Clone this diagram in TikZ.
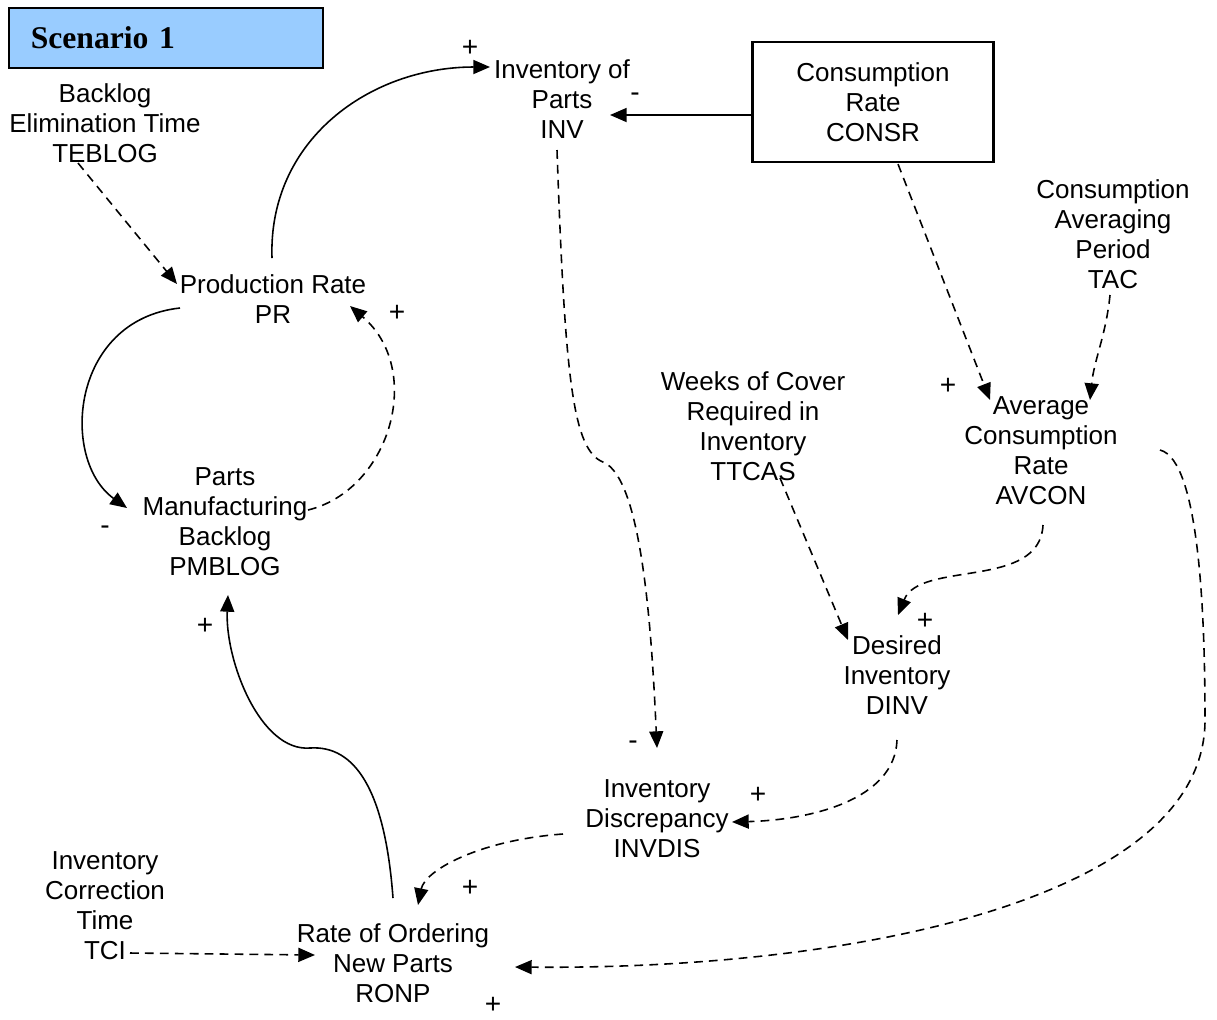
\documentclass[tikz,border=0pt]{standalone}
\usepackage{fontspec}
\setmainfont{Liberation Sans}
\newfontfamily\titlefont{Liberation Serif}
\usetikzlibrary{arrows.meta}
\definecolor{scnblue}{RGB}{153,204,255}
\tikzset{
  var/.style={align=center,inner sep=0pt,font=\fontsize{14.8}{17.1}\selectfont},
  lnk/.style={-{Triangle[length=9.5pt,width=8pt]},line width=0.9pt},
  dlnk/.style={lnk,dash pattern=on 5pt off 3.5pt},
  sgn/.style={inner sep=0pt,font=\fontsize{16}{18}\selectfont},
}
\begin{document}
\begin{tikzpicture}[x=0.02cm,y=-0.02cm]
  \useasboundingbox (0,0) rectangle (1217,1019);
  % title box
  \node (title) [anchor=north west,draw,line width=0.9pt,fill=scnblue,
        minimum height=1.2cm,inner xsep=0.44cm,text width=5.4cm,align=left,
        font=\titlefont\bfseries\fontsize{18}{20}\selectfont] at (8,7) {Scenario 1};
  % variables
  \node (blog)   [var] at (105,123) {Backlog\\Elimination Time\\TEBLOG};
  \node (pr)     [var] at (273,299) {Production Rate\\PR};
  \node (inv)    [var] at (562,99)  {Inventory of\\Parts\\INV};
  \node (consr)  [var,draw,line width=1.2pt,minimum width=4.82cm,minimum height=2.4cm]
                       at (873,102) {Consumption\\Rate\\CONSR};
  \node (tac)    [var] at (1113,234) {Consumption\\Averaging\\Period\\TAC};
  \node (ttcas)  [var] at (753,426) {Weeks of Cover\\Required in\\Inventory\\TTCAS};
  \node (avcon)  [var] at (1041,451) {Average\\Consumption\\Rate\\AVCON};
  \node (pmblog) [var] at (225,522) {Parts\\Manufacturing\\Backlog\\PMBLOG};
  \node (dinv)   [var] at (897,675) {Desired\\Inventory\\DINV};
  \node (invdis) [var] at (657,819) {Inventory\\Discrepancy\\INVDIS};
  \node (tci)    [var] at (105,906) {Inventory\\Correction\\Time\\TCI};
  \node (ronp)   [var] at (393,963) {Rate of Ordering\\New Parts\\RONP};
  % bend points
  \coordinate (invbend)  at (603,462);
  \coordinate (avbend)   at (1205,720);
  \coordinate (ronpbend) at (310,748);
  % links
  \draw[lnk] ([shift={(-1,-41)}]pr.center) .. controls +(-4,-118) and +(-120,0) ..
        ([shift={(-72,-32)}]inv.center);
  \draw[lnk] ([shift={(0,13)}]consr.west) -- ([shift={(48,16)}]inv.center);
  \draw[dlnk] ([shift={(-27,40)}]blog.center) -- ([shift={(-96,-15)}]pr.center);
  \draw[lnk] ([shift={(-93,9)}]pr.center) .. controls +(-110,12) and +(-67,-48) ..
        ([shift={(-98,-14)}]pmblog.center);
  \draw[dlnk] ([shift={(83,-12)}]pmblog.center) .. controls +(82,-20) and +(75,64) ..
        ([shift={(77,7)}]pr.center);
  \draw[dlnk] ([shift={(-5,51)}]inv.center) .. controls +(8,230) and +(-30,-12) .. (invbend)
        .. controls +(40,16) and +(-5,-108) .. ([shift={(0,-71)}]invdis.center);
  \draw[dlnk] ([shift={(25,1)}]consr.south) -- ([shift={(-51,-51)}]avcon.center);
  \draw[dlnk] ([shift={(-3,61)}]tac.center) .. controls +(-4,40) and +(4,-40) ..
        ([shift={(49,-51)}]avcon.center);
  \draw[dlnk] ([shift={(27,52)}]ttcas.center) -- ([shift={(-49,-35)}]dinv.center);
  \draw[dlnk] ([shift={(2,74)}]avcon.center) .. controls +(-3,65) and +(22,-55) ..
        ([shift={(1,-60)}]dinv.center);
  \draw[dlnk] ([shift={(0,65)}]dinv.center) .. controls +(-2,60) and +(78,-2) ..
        ([shift={(75,3)}]invdis.center);
  \draw[dlnk] ([shift={(-94,15)}]invdis.center) .. controls +(-83,6) and +(7,-35) ..
        ([shift={(25,-58)}]ronp.center);
  \draw[dlnk] ([shift={(119,-1)}]avcon.center) .. controls +(40,10) and +(0,-100) .. (avbend)
        .. controls +(0,180) and +(335,3) .. ([shift={(122,4)}]ronp.center);
  \draw[dlnk] ([shift={(25,47)}]tci.center) -- ([shift={(-78,-8)}]ronp.center);
  \draw[lnk] ([shift={(0,-65)}]ronp.center) .. controls +(-8,-108) and +(45,-3) .. (ronpbend)
        .. controls +(-50,4) and +(-3,65) .. ([shift={(3,73)}]pmblog.center);
  % polarity signs
  \foreach \n/\x/\y/\s in {1/470/48/+, 2/635/97/-, 3/397/313/+, 4/105/530/-,
      5/948/386/+, 6/925/621/+, 7/758/795/+, 8/633/745/-, 9/470/888/+,
      10/205/626/+, 11/493/1005/+}{
    \node (sgn\n) [sgn] at (\x,\y) {\s};
  }
\end{tikzpicture}
\end{document}
